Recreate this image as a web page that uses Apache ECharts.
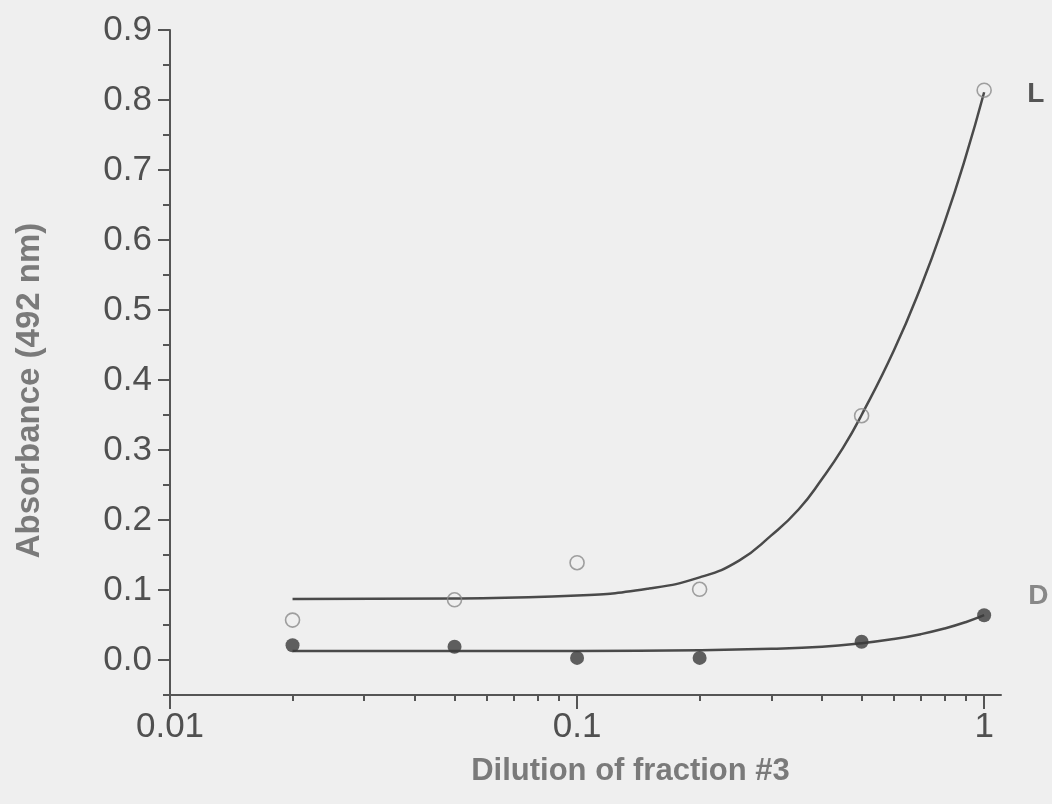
<!DOCTYPE html>
<html>
<head>
<meta charset="utf-8">
<script src="https://cdn.jsdelivr.net/npm/echarts@6/dist/echarts.min.js"></script>
<style>
html,body{margin:0;padding:0;background:#efefef;}
#chart{width:1052px;height:804px;}
</style>
</head>
<body>
<div id="chart"></div>
<script>
// ---- data (dilution on x, absorbance on y) ----
const dilutions = [0.02, 0.05, 0.1, 0.2, 0.5, 1];
const absL = [0.057, 0.086, 0.139, 0.101, 0.349, 0.814];
const absD = [0.021, 0.019, 0.003, 0.003, 0.026, 0.064];

// fitted curves
const fitLx = [0.02, 0.05, 0.1, 0.15, 0.2, 0.25, 0.3, 0.35, 0.4, 0.45, 0.5, 0.6, 0.7, 0.8, 0.9, 1];
const fitLy = [0.087, 0.088, 0.092, 0.102, 0.118, 0.142, 0.178, 0.215, 0.259, 0.303, 0.35, 0.442, 0.534, 0.626, 0.718, 0.811];
const fitDx = [0.02, 0.05, 0.1, 0.2, 0.3, 0.4, 0.5, 0.6, 0.7, 0.8, 0.9, 1];
const fitDy = [0.013, 0.013, 0.013, 0.014, 0.016, 0.019, 0.024, 0.03, 0.037, 0.045, 0.054, 0.064];

// axis ticks
const xMajorTicks = [0.01, 0.1, 1];
const xTickLabels = ['0.01', '0.1', '1'];
const xMinorTicks = [0.02,0.03,0.04,0.05,0.06,0.07,0.08,0.09,0.2,0.3,0.4,0.5,0.6,0.7,0.8,0.9];
const yMajorTicks = [0, 0.1, 0.2, 0.3, 0.4, 0.5, 0.6, 0.7, 0.8, 0.9];
const yMinorTicks = [-0.05, 0.05, 0.15, 0.25, 0.35, 0.45, 0.55, 0.65, 0.75, 0.85];
const xMin = 0.01, xMax = 1.1, yMin = -0.05, yMax = 0.9;

const lg = v => Math.log10(v);
const pairs = (xs, ys) => xs.map((x, i) => [lg(x), ys[i]]);

const axisColor = '#555';
const font = 'Liberation Sans, Arial, sans-serif';

const chart = echarts.init(document.getElementById('chart'));
chart.setOption({
  backgroundColor: '#efefef',
  animation: false,
  grid: { left: 170, right: 51, top: 30, bottom: 109 },
  xAxis: [{
    type: 'value',
    min: lg(xMin), max: lg(xMax),
    name: 'Dilution of fraction #3',
    nameLocation: 'middle',
    nameGap: 61,
    nameTextStyle: { fontFamily: font, fontSize: 31, fontWeight: 'bold', color: '#7a7a7a', padding: [0, 0, 0, 90] },
    axisLine: { show: true, onZero: false, lineStyle: { color: axisColor, width: 2 } },
    axisTick: { show: true, inside: false, length: 14, lineStyle: { color: axisColor, width: 2 },
                customValues: xMajorTicks.map(lg) },
    axisLabel: { show: true, margin: 15, fontFamily: font, fontSize: 35, color: '#505050',
                 customValues: xMajorTicks.map(lg),
                 formatter: v => { const i = xMajorTicks.findIndex(t => Math.abs(lg(t) - v) < 1e-6); return i >= 0 ? xTickLabels[i] : ''; } },
    splitLine: { show: false }
  }, {
    type: 'value',
    min: lg(xMin), max: lg(xMax),
    position: 'bottom',
    axisLine: { show: false, onZero: false },
    axisTick: { show: true, inside: false, length: 6, lineStyle: { color: axisColor, width: 2 },
                customValues: xMinorTicks.map(lg) },
    axisLabel: { show: false },
    splitLine: { show: false }
  }],
  yAxis: [{
    type: 'value',
    min: yMin, max: yMax,
    name: 'Absorbance (492 nm)',
    nameLocation: 'middle',
    nameGap: 124,
    nameRotate: 90,
    nameTextStyle: { fontFamily: font, fontSize: 33, fontWeight: 'bold', color: '#7a7a7a', padding: [0, 56, 0, 0] },
    axisLine: { show: true, onZero: false, lineStyle: { color: axisColor, width: 2 } },
    axisTick: { show: true, inside: false, length: 12, lineStyle: { color: axisColor, width: 2 },
                customValues: yMajorTicks },
    axisLabel: { show: true, margin: 18, fontFamily: font, fontSize: 35, color: '#505050',
                 customValues: yMajorTicks, formatter: v => v.toFixed(1) },
    splitLine: { show: false }
  }, {
    type: 'value',
    min: yMin, max: yMax,
    position: 'left',
    axisLine: { show: false, onZero: false },
    axisTick: { show: true, inside: false, length: 7, lineStyle: { color: axisColor, width: 2 },
                customValues: yMinorTicks },
    axisLabel: { show: false },
    splitLine: { show: false }
  }],
  series: [
    {
      name: 'L fit', type: 'line', smooth: 0.5, showSymbol: false, symbol: 'none',
      data: pairs(fitLx, fitLy),
      lineStyle: { color: '#4a4a4a', width: 2.5 },
      endLabel: { show: true, formatter: 'L', fontFamily: font, fontSize: 28, fontWeight: 'bold',
                  color: '#555', distance: 0, offset: [43, 2] },
      z: 2
    },
    {
      name: 'D fit', type: 'line', smooth: 0.5, showSymbol: false, symbol: 'none',
      data: pairs(fitDx, fitDy),
      lineStyle: { color: '#4a4a4a', width: 2.5 },
      endLabel: { show: true, formatter: 'D', fontFamily: font, fontSize: 28, fontWeight: 'bold',
                  color: '#888', distance: 0, offset: [44, -19] },
      z: 2
    },
    {
      name: 'L', type: 'scatter', symbol: 'circle', symbolSize: 14,
      data: pairs(dilutions, absL),
      itemStyle: { color: 'rgba(239,239,239,0)', borderColor: '#8a8a8a', borderWidth: 1.6 },
      z: 3
    },
    {
      name: 'D', type: 'scatter', symbol: 'circle', symbolSize: 14,
      data: pairs(dilutions, absD),
      itemStyle: { color: '#3a3a3a', borderColor: '#3a3a3a', borderWidth: 0 },
      z: 3
    }
  ]
});
</script>
</body>
</html>
